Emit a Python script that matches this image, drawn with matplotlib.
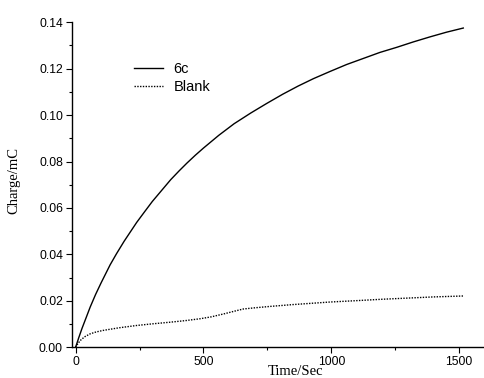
import matplotlib
matplotlib.use("Agg")
import matplotlib.pyplot as plt
from matplotlib.ticker import MultipleLocator, FormatStrFormatter

# Data
t_6c = [0, 12, 25, 40, 57, 78, 100, 135, 160, 190, 239, 270, 300, 372, 405,
        436, 468, 500, 560, 620, 685, 747, 810, 870, 930, 995, 1060, 1125,
        1190, 1256, 1320, 1386, 1450, 1516]
q_6c = [0, 0.0040, 0.0081, 0.0124, 0.0173, 0.0227, 0.0278, 0.0355, 0.0403,
        0.0457, 0.0538, 0.0584, 0.0628, 0.0722, 0.0760, 0.0794, 0.0827,
        0.0858, 0.0913, 0.0963, 0.1009, 0.1050, 0.1090, 0.1125, 0.1157,
        0.1188, 0.1218, 0.1244, 0.1270, 0.1292, 0.1315, 0.1337, 0.1357,
        0.1375]

t_blank = [0, 8, 18, 35, 57, 80, 109, 170, 239, 300, 369, 430, 487, 530, 580,
           630, 656, 700, 760, 850, 995, 1100, 1200, 1300, 1400, 1516]
q_blank = [0, 0.0014, 0.0029, 0.0045, 0.0058, 0.0066, 0.0073, 0.0084, 0.0094,
           0.0101, 0.0108, 0.0115, 0.0123, 0.0131, 0.0144, 0.0158, 0.0165,
           0.0170, 0.0176, 0.0184, 0.0195, 0.0201, 0.0207, 0.0212, 0.0217,
           0.0221]

labels = ["6c", "Blank"]
x_label = "Time/Sec"
y_label = "Charge/mC"

fig = plt.figure(figsize=(4.84, 3.78), dpi=100)
ax = fig.add_axes([72/484, 1 - 347.3/378, (484 - 72)/484, (347.3 - 22)/378])

ax.plot(t_6c, q_6c, color="black", lw=1.0, label=labels[0])
ax.plot(t_blank, q_blank, color="black", lw=1.0, linestyle=(0, (1, 1)), label=labels[1])

ax.set_xlim(-14, 1597)
ax.set_ylim(0, 0.1401)

for s in ["top", "right"]:
    ax.spines[s].set_visible(False)
for s in ["left", "bottom"]:
    ax.spines[s].set_linewidth(1.0)

ax.xaxis.set_major_locator(MultipleLocator(500))
ax.xaxis.set_minor_locator(MultipleLocator(250))
ax.yaxis.set_major_locator(MultipleLocator(0.02))
ax.yaxis.set_minor_locator(MultipleLocator(0.01))
ax.yaxis.set_major_formatter(FormatStrFormatter("%.2f"))

ax.tick_params(which="major", direction="out", length=4.5, width=0.8,
               labelsize=8.7, pad=2)
ax.tick_params(which="minor", direction="out", length=2.5, width=0.8)
for lab in ax.get_xticklabels() + ax.get_yticklabels():
    lab.set_fontfamily("Liberation Sans")

fig.text(295/484, 1 - 375/378, x_label, ha="center", va="baseline",
         fontsize=10.5, family="Liberation Serif")
fig.text(14/484, 1 - 181/378, y_label, ha="center", va="center", rotation=90,
         fontsize=10.5, family="Liberation Serif")

leg = ax.legend(loc="upper left", bbox_to_anchor=((136 - 72)/412 - 0.02, 1 - (56 - 22)/325.3),
                frameon=False, handlelength=2.0, handletextpad=0.75,
                labelspacing=0.3, borderaxespad=0,
                prop={"family": "Liberation Sans", "size": 10.5})

fig.savefig("out.png", dpi=100)
